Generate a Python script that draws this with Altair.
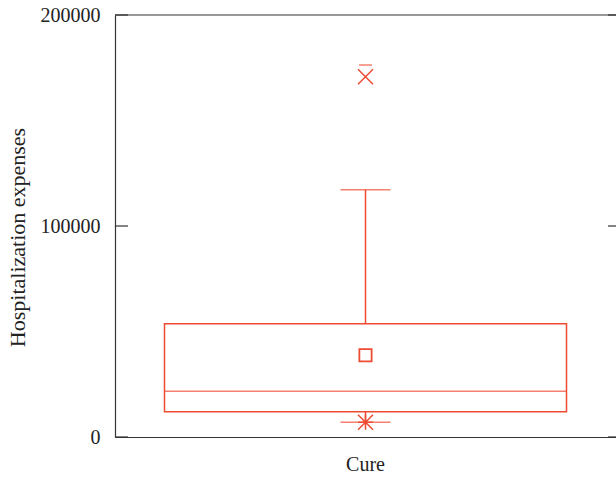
import altair as alt
import pandas as pd

categories = ["Cure"]
q1 = [12000]
median = [21700]
q3 = [53700]
whisker_low = [7000]
whisker_high = [117200]
mean = [38700]
minimum = [7000]
outlier = [170700]
maximum = [176300]
y_ticks = [0, 100000, 200000]

RED = "#ef4b32"
FRAME = "#333333"
FONT = "Liberation Serif"

df = pd.DataFrame({
    "cat": categories, "q1": q1, "median": median, "q3": q3,
    "lo": whisker_low, "hi": whisker_high, "mean": mean,
    "min": minimum, "out": outlier, "max": maximum,
})
ticks_df = pd.DataFrame({"v": y_ticks})

yscale = alt.Scale(domain=[0, 200000], nice=False)
xenc = alt.X("cat:N", title=None,
             axis=alt.Axis(labelAngle=0, ticks=False, labelPadding=17,
                           labelFont=FONT, labelFontSize=20, labelColor="#222",
                           domainColor=FRAME, domainWidth=1.2))

base = alt.Chart(df)

box = base.mark_bar(size=402, fill="white", fillOpacity=0, stroke=RED, strokeWidth=1.5).encode(
    x=xenc,
    y=alt.Y("q1:Q", scale=yscale, title="Hospitalization expenses",
            axis=alt.Axis(values=y_ticks, format="d", ticks=False, grid=False,
                          labelPadding=15, labelFont=FONT, labelFontSize=20,
                          labelColor="#222", domainColor=FRAME, domainWidth=1.2,
                          titleFont=FONT, titleFontSize=22, titleFontWeight="normal",
                          titleColor="#222", titleAngle=270, titleX=-98, titleY=222,
                          titleAlign="center", titleBaseline="middle")),
    y2="q3:Q",
)
med = base.mark_tick(size=402, thickness=1.5, color=RED).encode(
    x="cat:N", y=alt.Y("median:Q", scale=yscale))
whisk_hi = base.mark_rule(color=RED, strokeWidth=1.5).encode(
    x="cat:N", y=alt.Y("q3:Q", scale=yscale), y2="hi:Q")
whisk_lo = base.mark_rule(color=RED, strokeWidth=1.5).encode(
    x="cat:N", y=alt.Y("lo:Q", scale=yscale), y2="q1:Q")
cap_hi = base.mark_tick(size=50, thickness=1.5, color=RED).encode(
    x="cat:N", y=alt.Y("hi:Q", scale=yscale))
cap_lo = base.mark_tick(size=50, thickness=1.5, color=RED).encode(
    x="cat:N", y=alt.Y("lo:Q", scale=yscale))
cap_max = base.mark_tick(size=13, thickness=1.5, color=RED).encode(
    x="cat:N", y=alt.Y("max:Q", scale=yscale))
mean_pt = base.mark_point(shape="square", size=150, filled=False, color=RED, strokeWidth=1.8, opacity=1).encode(
    x="cat:N", y=alt.Y("mean:Q", scale=yscale))
out_pt = base.mark_point(shape="M-1,-1L1,1M-1,1L1,-1", size=225, filled=False, color=RED, strokeWidth=1.5, opacity=1).encode(
    x="cat:N", y=alt.Y("out:Q", scale=yscale))
min_pt = base.mark_point(shape="M-1,0L1,0M0,-1L0,1M-1,-1L1,1M-1,1L1,-1", size=225, filled=False, color=RED, strokeWidth=1.5, opacity=1).encode(
    x="cat:N", y=alt.Y("min:Q", scale=yscale))

tk = alt.Chart(ticks_df)
top_rule = tk.transform_filter(alt.datum.v == 200000).mark_rule(color=FRAME, strokeWidth=1.2).encode(
    y=alt.Y("v:Q", scale=yscale))
left_ticks = tk.mark_rule(color=FRAME, strokeWidth=1.2).encode(
    y=alt.Y("v:Q", scale=yscale), x=alt.value(0), x2=alt.value(13))
right_ticks = tk.mark_rule(color=FRAME, strokeWidth=1.2).encode(
    y=alt.Y("v:Q", scale=yscale), x=alt.value(493), x2=alt.value(501))

chart = alt.layer(box, whisk_hi, whisk_lo, med, cap_hi, cap_lo, cap_max, mean_pt, out_pt, min_pt,
                  top_rule, left_ticks, right_ticks).properties(
    width=501, height=422,
    autosize=alt.AutoSizeParams(type="none"),
    padding={"left": 115, "top": 15, "right": 0, "bottom": 40},
    background="white",
).configure_view(stroke=None)

chart.save("out.html", embed_options={"renderer": "svg", "actions": False})
